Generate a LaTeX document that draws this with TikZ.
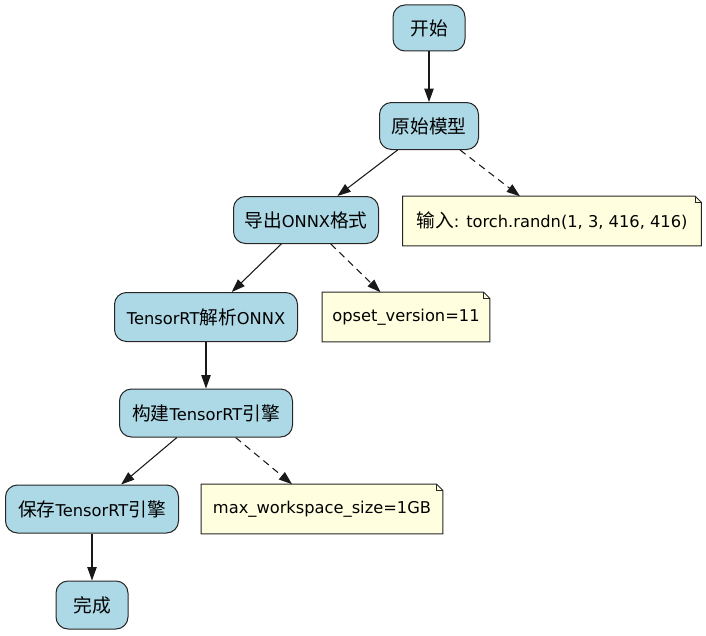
\documentclass[tikz,border=0pt]{standalone}
\usepackage{fontspec}
\setmainfont{DejaVu Sans}
\newfontfamily\cjk[Scale=1.15]{Noto Sans CJK SC}
\usetikzlibrary{
	arrows.meta,
	positioning
}
\definecolor{boxblue}{RGB}{173,216,230}
\definecolor{noteyellow}{RGB}{255,255,224}
\tikzset{
	FC-Node/.style={rectangle,draw=black!85,fill=boxblue,line width=0.75pt,align=center,rounded corners=9pt,inner sep=0pt,minimum height=35.25pt,font=\fontsize{12.2pt}{14pt}\selectfont},
	FC-Note/.style={rectangle,inner sep=0pt,minimum height=36.75pt,font=\fontsize{12.2pt}{14pt}\selectfont},
	FC-Fold/.style={draw=black!85,fill=noteyellow,line width=0.75pt},
	FC-Arrow/.style={-{Triangle[length=10pt,width=7pt]},line width=0.8pt,black!90},
	FC-Dash/.style={FC-Arrow,dash pattern=on 5.25pt off 3.75pt}
}
% note outline with folded corner
\newcommand{\notefold}[1]{%
	\filldraw[FC-Fold] (#1.south west) -- (#1.north west) -- ([xshift=-4.5pt]#1.north east)
		-- ([yshift=-4.5pt]#1.north east) -- (#1.south east) -- cycle;
	\draw[FC-Fold,fill=none] ([xshift=-4.5pt]#1.north east) |- ([yshift=-4.5pt]#1.north east);
}

\begin{document}
\begin{tikzpicture}[x=0.75pt,y=-0.75pt]
	\useasboundingbox (0,0) rectangle (706,635);
	\node [FC-Node,minimum width=54pt,minimum height=34.5pt] (start) at (429,28) {\cjk 开始};
	\node [FC-Node,minimum width=74.25pt] (model) at (429,126) {\cjk 原始模型};
	\node [FC-Node,minimum width=108.75pt] (export) at (306,220) {{\cjk 导出}ONNX{\cjk 格式}};
	\node [FC-Node,minimum width=137.25pt,minimum height=36.75pt] (parse) at (206,317) {TensorRT{\cjk 解析}ONNX};
	\node [FC-Node,minimum width=129.75pt,minimum height=36pt] (build) at (206,413) {{\cjk 构建}TensorRT{\cjk 引擎}};
	\node [FC-Node,minimum width=129.75pt,minimum height=36pt] (save) at (92,509) {{\cjk 保存}TensorRT{\cjk 引擎}};
	\node [FC-Node,minimum width=54pt,minimum height=36pt] (done) at (92,605) {\cjk 完成};
	% notes
	\node [FC-Note,minimum width=223.5pt] (inputnote) at (552,221) {};
	\notefold{inputnote}
	\node at (inputnote) [FC-Note] {{\cjk 输入}: torch.randn(1, 3, 416, 416)};
	\node [FC-Note,minimum width=125.25pt] (opsetnote) at (406,317) {};
	\notefold{opsetnote}
	\node at (opsetnote) [FC-Note] {opset\_version=11};
	\node [FC-Note,minimum width=180.75pt] (wsnote) at (322,509) {};
	\notefold{wsnote}
	\node at (wsnote) [FC-Note] {max\_workspace\_size=1GB};
	% edges
	\draw [FC-Arrow] (start) -- (model);
	\draw [FC-Arrow] (model) -- (export);
	\draw [FC-Dash] (model) -- (inputnote);
	\draw [FC-Arrow] (export) -- (parse);
	\draw [FC-Dash] (export) -- (opsetnote);
	\draw [FC-Arrow] (parse) -- (build);
	\draw [FC-Arrow] (build) -- (save);
	\draw [FC-Dash] (build) -- (wsnote);
	\draw [FC-Arrow] (save) -- (done);
\end{tikzpicture}
\end{document}
